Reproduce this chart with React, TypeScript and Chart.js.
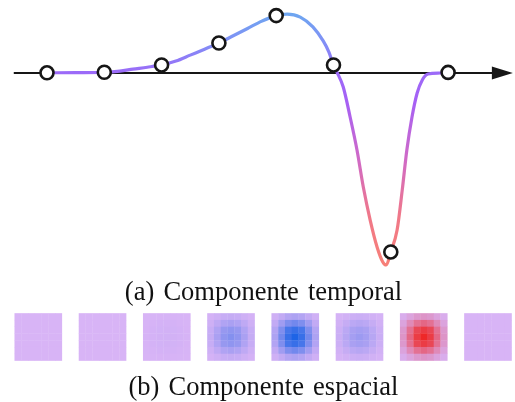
import { useEffect, useRef } from 'react';
import { Chart, registerables } from 'chart.js';

Chart.register(...registerables);

// ---- temporal component (curve samples) ----
const curveTimes = [
  0, 0.5, 1.0, 1.27, 1.5, 1.75, 2.0, 2.25, 2.5, 2.75, 3.0, 3.25, 3.5, 3.75, 4.0,
  4.19, 4.42, 4.64, 4.82, 4.92, 5.0, 5.06, 5.17, 5.29, 5.41, 5.52, 5.64, 5.76,
  5.86, 5.92, 6.0, 6.11, 6.2, 6.28, 6.37, 6.46, 6.55, 6.65, 6.86, 7.0,
];
const curveValues = [
  0.001, 0.002, 0.004, 0.01, 0.02, 0.03, 0.042, 0.062, 0.093, 0.124, 0.156,
  0.194, 0.232, 0.27, 0.299, 0.307, 0.291, 0.24, 0.167, 0.109, 0.042, 0.005,
  -0.073, -0.229, -0.401, -0.594, -0.766, -0.906, -0.984, -1.0, -0.932, -0.818,
  -0.609, -0.401, -0.229, -0.104, -0.036, -0.005, 0.0, 0.003,
];

// sampled frames (markers)
const markerTimes = [0, 1, 2, 3, 4, 5, 6, 7];
const markerValues = [0.001, 0.004, 0.042, 0.156, 0.299, 0.042, -0.932, 0.003];

// horizontal time axis (data units)
const axisStart = -0.58;
const axisEnd = 7.8;
const arrowTip = 8.13;

// ---- spatial component ----
const frameIndex = [0, 1, 2, 3, 4, 5, 6, 7];
const frameWeights = [0, 0, 0.04, 0.45, 1.0, 0.32, -1.0, 0];
const spatialProfile = [
  [0.05, 0.12, 0.2, 0.23, 0.2, 0.12, 0.05],
  [0.12, 0.3, 0.48, 0.55, 0.48, 0.3, 0.12],
  [0.2, 0.48, 0.78, 0.86, 0.78, 0.48, 0.2],
  [0.23, 0.55, 0.86, 1.0, 0.86, 0.55, 0.23],
  [0.2, 0.48, 0.78, 0.86, 0.78, 0.48, 0.2],
  [0.12, 0.3, 0.48, 0.55, 0.48, 0.3, 0.12],
  [0.05, 0.12, 0.2, 0.23, 0.2, 0.12, 0.05],
];

const captionA = '(a) Componente temporal';
const captionB = '(b) Componente espacial';

// ---- styling ----
const W = 515;
const TOP_H = 280;
const SQ_TOP = 300;
const SQ_H = 75;
const CELL = 47.3 / 7;
const SQUARE_FRAC = 47.3 / 64.24;

const ZERO = [216, 180, 246];
const POS = [30, 100, 230];
const NEG = [238, 40, 40];

function mix(a: number[], b: number[], t: number) {
  const c = a.map((v, i) => Math.round(v + (b[i] - v) * t));
  return `rgb(${c[0]},${c[1]},${c[2]})`;
}
function valueColor(v: number) {
  const t = Math.min(1, Math.abs(v));
  return v >= 0 ? mix(ZERO, POS, t) : mix(ZERO, NEG, t);
}

const curveStops: [number, string][] = [
  [0.31, 'rgb(110,166,240)'],
  [0.15, 'rgb(130,142,246)'],
  [0.0, 'rgb(156,106,248)'],
  [-0.15, 'rgb(166,96,245)'],
  [-0.45, 'rgb(208,106,198)'],
  [-0.75, 'rgb(240,120,136)'],
  [-1.0, 'rgb(247,128,120)'],
];

const arrowPlugin = {
  id: 'arrowHead',
  afterDatasetsDraw(chart: any) {
    const { ctx, scales } = chart;
    const tip = scales.x.getPixelForValue(arrowTip);
    const y = scales.y.getPixelForValue(0);
    ctx.save();
    ctx.fillStyle = '#161616';
    ctx.beginPath();
    ctx.moveTo(tip, y);
    ctx.lineTo(tip - 21, y - 6.5);
    ctx.lineTo(tip - 21, y + 6.5);
    ctx.closePath();
    ctx.fill();
    ctx.restore();
  },
};

export default function App() {
  const topRef = useRef<HTMLCanvasElement>(null);
  const sqRef = useRef<HTMLCanvasElement>(null);

  useEffect(() => {
    const pxPerT = 57.3;
    const x0 = 47;
    const topChart = new Chart(topRef.current!, {
      type: 'line',
      data: {
        datasets: [
          {
            data: [
              { x: axisStart, y: 0 },
              { x: axisEnd, y: 0 },
            ],
            borderColor: '#161616',
            borderWidth: 2,
            pointRadius: 0,
            order: 3,
          },
          {
            data: curveTimes.map((t, i) => ({ x: t, y: curveValues[i] })),
            borderWidth: 3.2,
            pointRadius: 0,
            cubicInterpolationMode: 'monotone',
            borderCapStyle: 'round',
            order: 2,
            borderColor: (c: any) => {
              const chart = c.chart;
              const { ctx, chartArea, scales } = chart;
              if (!chartArea) return '#9b6cf5';
              const yTop = scales.y.getPixelForValue(0.31);
              const yBot = scales.y.getPixelForValue(-1.0);
              const g = ctx.createLinearGradient(0, yTop, 0, yBot);
              curveStops.forEach(([v, col]) => {
                const p = (scales.y.getPixelForValue(v) - yTop) / (yBot - yTop);
                g.addColorStop(Math.max(0, Math.min(1, p)), col);
              });
              return g;
            },
          } as any,
          {
            data: markerTimes.map((t, i) => ({ x: t, y: markerValues[i] })),
            showLine: false,
            pointRadius: 6.5,
            pointBorderWidth: 2.6,
            pointBorderColor: '#161616',
            pointBackgroundColor: '#ffffff',
            order: 1,
          },
        ],
      },
      options: {
        animation: false,
        responsive: false,
        events: [],
        layout: { padding: 0, autoPadding: false },
        plugins: { legend: { display: false }, tooltip: { enabled: false } },
        scales: {
          x: { type: 'linear', display: false, min: -x0 / pxPerT, max: (W - x0) / pxPerT },
          y: { type: 'linear', display: false, min: -(TOP_H - 73) / 192, max: 73 / 192 },
        },
      },
      plugins: [arrowPlugin],
    });

    const cells: { x: number; y: number }[] = [];
    const colors: string[] = [];
    frameIndex.forEach((s) => {
      spatialProfile.forEach((row, i) => {
        row.forEach((p, j) => {
          cells.push({ x: s + ((j - 3) / 7) * SQUARE_FRAC, y: 3 - i });
          colors.push(valueColor(p * frameWeights[s]));
        });
      });
    });
    const cy = 37;
    const sqChart = new Chart(sqRef.current!, {
      type: 'scatter',
      data: {
        datasets: [
          {
            data: cells,
            pointStyle: 'rect',
            pointRadius: (CELL + 0.35) / Math.SQRT2,
            pointBorderWidth: 0,
            pointBackgroundColor: colors,
          },
        ],
      },
      options: {
        animation: false,
        responsive: false,
        events: [],
        layout: { padding: 0, autoPadding: false },
        plugins: { legend: { display: false }, tooltip: { enabled: false } },
        scales: {
          x: { type: 'linear', display: false, min: -38.3 / 64.24, max: (W - 38.3) / 64.24 },
          y: { type: 'linear', display: false, min: -(SQ_H - cy) / CELL, max: cy / CELL },
        },
      },
    });

    return () => {
      topChart.destroy();
      sqChart.destroy();
    };
  }, []);

  const capStyle: any = {
    position: 'absolute',
    left: 6,
    width: W,
    textAlign: 'center',
    fontFamily: '"Liberation Serif", "Times New Roman", serif',
    fontSize: 26.5,
    lineHeight: '26px',
    color: '#111',
    whiteSpace: 'nowrap',
    wordSpacing: 2.5,
  };

  return (
    <div style={{ position: 'absolute', left: 0, top: 0, width: W, height: 402, background: '#fff' }}>
      <canvas ref={topRef} width={W} height={TOP_H} style={{ position: 'absolute', left: 0, top: 0 }} />
      <div style={{ ...capStyle, top: 278 }}>{captionA}</div>
      <canvas ref={sqRef} width={W} height={SQ_H} style={{ position: 'absolute', left: 0, top: SQ_TOP }} />
      <div style={{ ...capStyle, top: 372.5 }}>{captionB}</div>
    </div>
  );
}
